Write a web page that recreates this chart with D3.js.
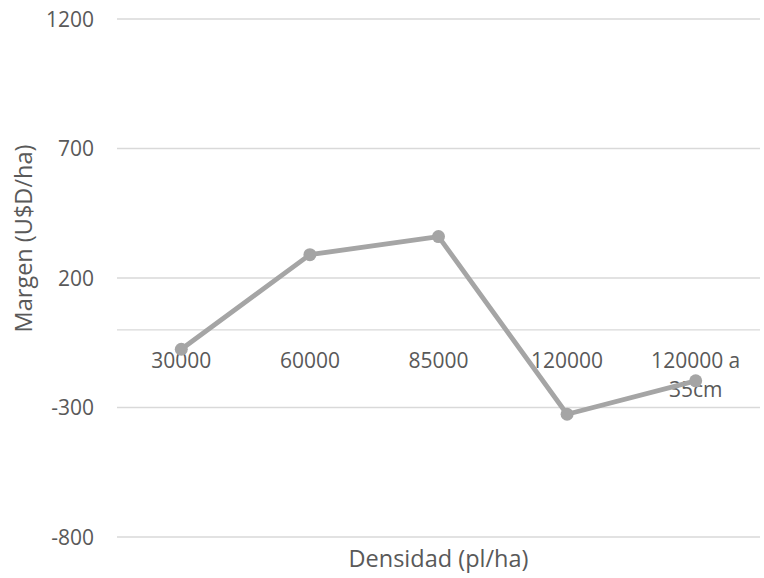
<!DOCTYPE html>
<html>
<head>
<meta charset="utf-8">
<script src="https://cdn.jsdelivr.net/npm/d3@7"></script>
<style>
  html, body { margin: 0; padding: 0; background: #fff; }
  svg { display: block; }
  text { font-family: "Open Sans", "Noto Sans", sans-serif; fill: #595959; }
</style>
</head>
<body>
<svg id="chart" width="764" height="578"></svg>
<script>
const categories = ["30000", "60000", "85000", "120000", "120000 a 35cm"];
const categoryLines = [["30000"], ["60000"], ["85000"], ["120000"], ["120000 a", "35cm"]];
const margen = [-75, 290, 360, -326, -197];
const yTicks = [-800, -300, 200, 700, 1200];
const xTitle = "Densidad (pl/ha)";
const yTitle = "Margen (U$D/ha)";

(function () {
const svg = d3.select("#chart");
const pL = 117, pR = 760, pT = 19, pB = 537;

const x = d3.scaleBand().domain(categories).range([pL, pR]).padding(0);
const y = d3.scaleLinear().domain([-800, 1200]).range([pB, pT]);

// gridlines
svg.append("g").selectAll("line").data(yTicks).join("line")
  .attr("x1", pL).attr("x2", pR)
  .attr("y1", d => y(d)).attr("y2", d => y(d))
  .attr("stroke", "#d9d9d9").attr("stroke-width", 1.3);

// category axis line at 0
svg.append("line")
  .attr("x1", pL).attr("x2", pR)
  .attr("y1", y(0)).attr("y2", y(0))
  .attr("stroke", "#d9d9d9").attr("stroke-width", 1.3);

// y tick labels
svg.append("g").selectAll("text").data(yTicks).join("text")
  .attr("x", 94).attr("y", d => y(d) + 7.5)
  .attr("text-anchor", "end")
  .attr("font-size", 21)
  .text(d => d);

// category labels
const cl = svg.append("g").selectAll("text").data(categories).join("text")
  .attr("text-anchor", "middle")
  .attr("font-size", 21)
  .attr("transform", d => `translate(${x(d) + x.bandwidth() / 2},${y(0) + 38.5})`);
cl.each(function(d, i) {
  d3.select(this).selectAll("tspan").data(categoryLines[i]).join("tspan")
    .attr("x", 0).attr("dy", (t, j) => j === 0 ? 0 : 29)
    .text(t => t);
});

// line
const line = d3.line()
  .x((d, i) => x(categories[i]) + x.bandwidth() / 2)
  .y(d => y(d));
svg.append("path").datum(margen)
  .attr("d", line)
  .attr("fill", "none")
  .attr("stroke", "#a5a5a5")
  .attr("stroke-width", 4.8)
  .attr("stroke-linejoin", "round");

svg.append("g").selectAll("circle").data(margen).join("circle")
  .attr("cx", (d, i) => x(categories[i]) + x.bandwidth() / 2)
  .attr("cy", d => y(d))
  .attr("r", 6.5)
  .attr("fill", "#a5a5a5");

// axis titles
svg.append("text")
  .attr("x", (pL + pR) / 2).attr("y", 567)
  .attr("text-anchor", "middle").attr("font-size", 23.5)
  .text(xTitle);

svg.append("text")
  .attr("transform", `translate(32,238.5) rotate(-90)`)
  .attr("text-anchor", "middle").attr("font-size", 23.5)
  .text(yTitle);
})();
</script>
</body>
</html>
